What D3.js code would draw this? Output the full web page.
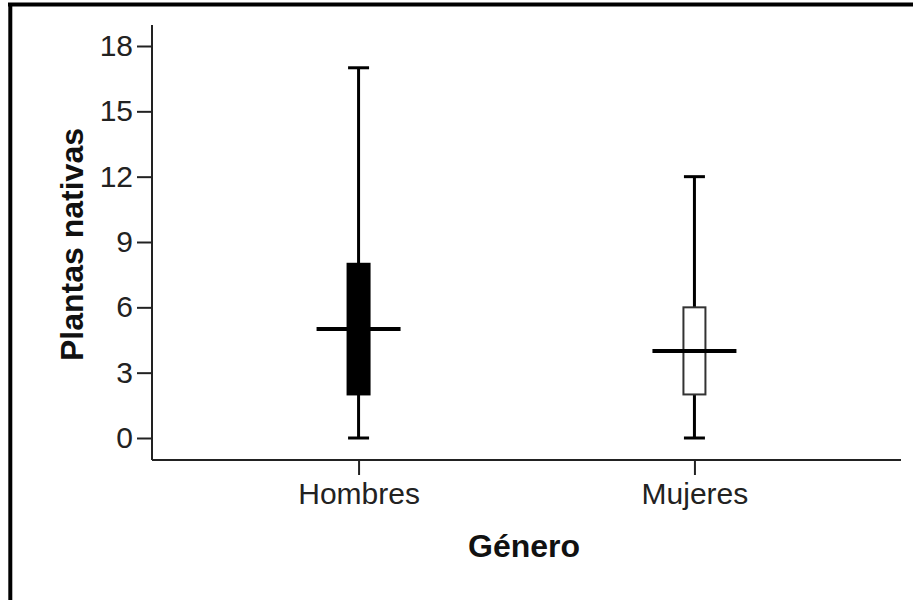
<!DOCTYPE html>
<html>
<head>
<meta charset="utf-8">
<script src="https://cdn.jsdelivr.net/npm/d3@7"></script>
<style>
  body { margin: 0; background: #fff; }
  svg { display: block; }
  text { font-family: "Liberation Sans", Arial, sans-serif; }
</style>
</head>
<body>
<svg id="chart" width="913" height="600"></svg>
<script>
const categories = ["Hombres", "Mujeres"];
const mins = [0, 0];
const q1s = [2, 2];
const medians = [5, 4];
const q3s = [8, 6];
const maxs = [17, 12];
const yTicks = [0, 3, 6, 9, 12, 15, 18];
const boxFills = ["#000000", "#ffffff"];
const xTitle = "Género";
const yTitle = "Plantas nativas";

const svg = d3.select("#chart");

// frame (top and left border only are visible)
svg.append("line").attr("x1", 8).attr("x2", 913).attr("y1", 4.5).attr("y2", 4.5)
  .attr("stroke", "#000").attr("stroke-width", 4);
svg.append("line").attr("x1", 10.3).attr("x2", 10.3).attr("y1", 3).attr("y2", 600)
  .attr("stroke", "#000").attr("stroke-width", 4);

const x0 = 152, x1 = 901, yAxisTop = 25, yAxisBottom = 460;

const x = d3.scalePoint().domain(categories).range([x0, x1]).padding(0.615);
const y = d3.scaleLinear().domain([0, 18]).range([438, 46]);

// axes lines
svg.append("line").attr("x1", x0).attr("x2", x0).attr("y1", yAxisTop).attr("y2", yAxisBottom)
  .attr("stroke", "#222").attr("stroke-width", 2);
svg.append("line").attr("x1", x0).attr("x2", x1).attr("y1", yAxisBottom).attr("y2", yAxisBottom)
  .attr("stroke", "#222").attr("stroke-width", 2);

// y axis ticks
const yAxis = d3.axisLeft(y).tickValues(yTicks).tickSize(15).tickPadding(4).tickFormat(d3.format("d"));
const gy = svg.append("g").attr("transform", `translate(${x0},0)`).call(yAxis);
gy.select(".domain").remove();
gy.selectAll(".tick line").attr("stroke", "#222").attr("stroke-width", 2);
gy.selectAll(".tick text").attr("font-size", 30).attr("fill", "#222")
  .attr("font-family", "'Liberation Sans', Arial, sans-serif");

// x axis ticks
const xAxis = d3.axisBottom(x).tickSize(15).tickPadding(8);
const gx = svg.append("g").attr("transform", `translate(0,${yAxisBottom})`).call(xAxis);
gx.select(".domain").remove();
gx.selectAll(".tick line").attr("stroke", "#222").attr("stroke-width", 2);
gx.selectAll(".tick text").attr("font-size", 30).attr("fill", "#222")
  .attr("font-family", "'Liberation Sans', Arial, sans-serif");

// box plots
const data = categories.map((c, i) => ({
  cat: c, min: mins[i], q1: q1s[i], med: medians[i], q3: q3s[i], max: maxs[i], fill: boxFills[i]
}));

const boxW = 22, capW = 21, medW = 84;
const g = svg.append("g");
data.forEach(d => {
  const cx = x(d.cat);
  // whiskers
  g.append("line").attr("x1", cx).attr("x2", cx).attr("y1", y(d.max)).attr("y2", y(d.q3))
    .attr("stroke", "#000").attr("stroke-width", 3);
  g.append("line").attr("x1", cx).attr("x2", cx).attr("y1", y(d.q1)).attr("y2", y(d.min))
    .attr("stroke", "#000").attr("stroke-width", 3);
  // caps
  [d.max, d.min].forEach(v => {
    g.append("line").attr("x1", cx - capW / 2).attr("x2", cx + capW / 2)
      .attr("y1", y(v)).attr("y2", y(v)).attr("stroke", "#000").attr("stroke-width", 3);
  });
  // box
  g.append("rect").attr("x", cx - boxW / 2).attr("y", y(d.q3))
    .attr("width", boxW).attr("height", y(d.q1) - y(d.q3))
    .attr("fill", d.fill).attr("stroke", d.fill === "#000000" ? "#000" : "#333")
    .attr("stroke-width", 2);
  // median
  g.append("line").attr("x1", cx - medW / 2).attr("x2", cx + medW / 2)
    .attr("y1", y(d.med)).attr("y2", y(d.med)).attr("stroke", "#000").attr("stroke-width", 4);
});

// titles
svg.append("text").attr("x", 524).attr("y", 557).attr("text-anchor", "middle")
  .attr("font-size", 32).attr("font-weight", "bold").attr("fill", "#111").text(xTitle);
svg.append("text").attr("transform", "translate(83,244.5) rotate(-90)").attr("text-anchor", "middle")
  .attr("font-size", 32).attr("font-weight", "bold").attr("fill", "#111").text(yTitle);
</script>
</body>
</html>
